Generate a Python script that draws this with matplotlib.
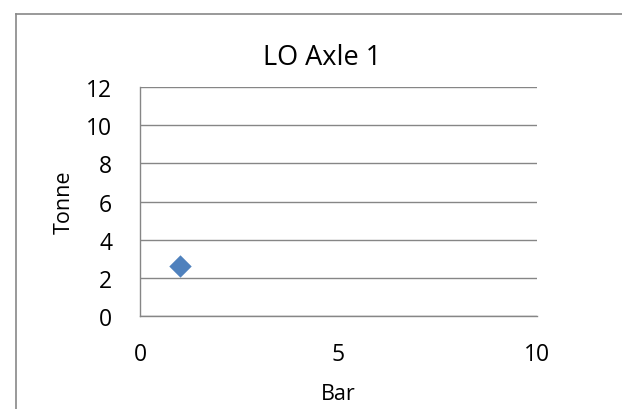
import matplotlib
matplotlib.use("Agg")
import matplotlib.pyplot as plt
from matplotlib.lines import Line2D

plt.rcParams['font.family'] = ['Open Sans', 'DejaVu Sans']

x_vals = [1]
y_vals = [2.6]
title = "LO Axle 1"
x_label = "Bar"
y_label = "Tonne"
x_ticks = [0, 5, 10]
y_ticks = [0, 2, 4, 6, 8, 10, 12]

W, H = 622, 410
fig = plt.figure(figsize=(W/100, H/100), dpi=100)
ax_l, ax_r, ax_t, ax_b = 140, 537, 88, 317
ax = fig.add_axes([ax_l/W, 1-ax_b/H, (ax_r-ax_l)/W, (ax_b-ax_t)/H])

grid_c = '#868686'
ax.scatter(x_vals, y_vals, marker='D', s=130, color='#4F81BD', zorder=3, linewidths=0)
ax.set_xlim(0, 10)
ax.set_ylim(0, 12)
ax.set_xticks(x_ticks)
ax.set_yticks(y_ticks)
ax.yaxis.grid(True, color=grid_c, linewidth=1)
ax.set_axisbelow(True)
for s in ['top', 'right']:
    ax.spines[s].set_visible(False)
for s in ['left', 'bottom']:
    ax.spines[s].set_color(grid_c)
    ax.spines[s].set_linewidth(1)
ax.tick_params(axis='both', length=0, labelsize=16.5)
ax.tick_params(axis='y', pad=20)
ax.tick_params(axis='x', pad=19)
ax.set_xlabel(x_label, fontsize=15.5, va='center')
ax.xaxis.set_label_coords(0.5, (ax_b-395)/(ax_b-ax_t))
ax.set_ylabel(y_label, fontsize=15.5, va='center')
ax.yaxis.set_label_coords((64-ax_l)/(ax_r-ax_l), 0.5)
fig.text(322/W, 1-65/H, title, fontsize=19.5, ha='center', va='baseline')

# chart area border (cropped on right and bottom)
fig.add_artist(Line2D([16/W, 16/W], [0, 1-15/H], transform=fig.transFigure, color='#888888', lw=1.2))
fig.add_artist(Line2D([16/W, 1], [1-15/H, 1-15/H], transform=fig.transFigure, color='#888888', lw=1.2))

fig.savefig("out.png", dpi=100)
